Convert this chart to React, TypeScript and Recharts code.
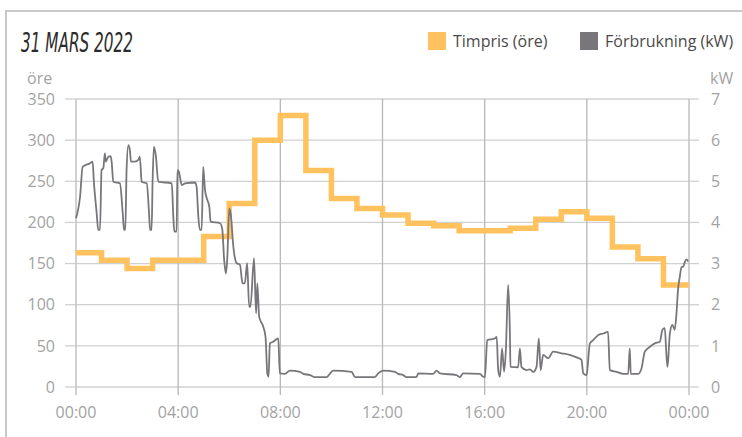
import React from 'react';
import { LineChart, Line, XAxis, YAxis, CartesianGrid } from 'recharts';

const title = '31 MARS 2022';
const priceLabel = 'Timpris (öre)';
const consumptionLabel = 'Förbrukning (kW)';
const leftUnit = 'öre';
const rightUnit = 'kW';

const priceHours = [0, 1, 2, 3, 4, 5, 6, 7, 8, 9, 10, 11, 12, 13, 14, 15, 16, 17, 18, 19, 20, 21, 22, 23, 24];
const pricesOre = [163, 154, 144, 154, 154, 183, 223, 300, 330, 263, 229, 217, 209, 199, 196, 190, 190, 193, 204, 213, 205, 170, 156, 124, 124];

const consumptionHours = [
  0.0, 0.16, 0.26, 0.55, 0.65, 0.7, 0.81, 0.87, 0.94, 1.0, 1.07, 1.13, 1.17, 1.27, 1.36, 1.4, 1.46, 1.72, 1.83, 1.88,
  1.93, 1.98, 2.05, 2.11, 2.15, 2.31, 2.44, 2.5, 2.57, 2.77, 2.86, 2.9, 2.96, 3.0, 3.05, 3.13, 3.22, 3.75, 3.81, 3.85,
  3.94, 3.97, 4.03, 4.14, 4.27, 4.66, 4.72, 4.79, 4.85, 4.92, 4.98, 5.05, 5.14, 5.22, 5.27, 5.64, 5.73, 5.8, 5.87, 5.92,
  6.0, 6.07, 6.16, 6.29, 6.42, 6.52, 6.61, 6.7, 6.78, 6.83, 6.97, 7.05, 7.1, 7.17, 7.33, 7.42, 7.49, 7.54, 7.59, 7.72,
  7.92, 7.98, 8.18, 8.38, 8.77, 8.9, 9.16, 9.35, 9.81, 10.07, 10.79, 10.92, 11.7, 11.83, 12.03, 12.49, 12.61, 12.81, 12.94, 13.33,
  13.4, 13.98, 14.12, 14.25, 14.9, 15.03, 15.16, 15.81, 15.94, 16.01, 16.1, 16.4, 16.47, 16.53, 16.6, 16.68, 16.76, 16.83, 16.92, 16.99,
  17.01, 17.31, 17.38, 17.44, 17.64, 17.77, 17.9, 18.03, 18.12, 18.19, 18.29, 18.49, 18.68, 19.01, 19.33, 19.6, 19.79, 19.86, 19.99, 20.12,
  20.25, 20.44, 20.64, 20.83, 20.9, 21.16, 21.42, 21.62, 21.68, 21.72, 22.01, 22.14, 22.27, 22.47, 22.66, 22.86, 22.96, 23.05, 23.12, 23.16,
  23.25, 23.35, 23.44, 23.51, 23.57, 23.64, 23.71, 23.77, 23.84, 23.9, 23.97,
];
const consumptionKw = [
  4.1, 4.63, 5.35, 5.44, 5.48, 4.99, 4.22, 3.82, 3.82, 5.27, 5.32, 5.68, 5.48, 5.6, 5.61, 5.44, 4.99, 4.95, 4.22, 3.82,
  3.82, 5.27, 5.88, 5.76, 5.48, 5.48, 5.52, 5.6, 4.99, 4.95, 4.22, 3.82, 3.82, 5.03, 5.84, 5.6, 4.99, 4.95, 4.14, 3.78,
  3.78, 5.27, 5.23, 4.91, 4.95, 4.97, 4.87, 4.14, 3.82, 3.82, 5.35, 4.79, 4.55, 4.38, 4.02, 3.98, 3.82, 3.09, 2.76, 3.09,
  4.34, 4.14, 3.41, 3.01, 2.97, 2.52, 2.52, 3.01, 1.95, 1.95, 3.13, 1.79, 2.52, 1.71, 1.47, 1.22, 0.33, 0.25, 1.06, 1.1,
  1.18, 0.33, 0.32, 0.4, 0.37, 0.32, 0.29, 0.24, 0.24, 0.4, 0.37, 0.24, 0.24, 0.33, 0.4, 0.37, 0.32, 0.29, 0.24, 0.24,
  0.33, 0.32, 0.4, 0.33, 0.29, 0.24, 0.33, 0.32, 0.25, 0.24, 1.14, 1.18, 1.22, 0.41, 0.25, 0.94, 0.37, 0.9, 2.48, 1.22,
  0.49, 0.48, 0.94, 0.49, 0.41, 0.43, 0.37, 0.49, 1.18, 0.41, 0.78, 0.7, 0.86, 0.82, 0.78, 0.72, 0.66, 0.33, 0.29, 1.06,
  1.14, 1.26, 1.3, 1.34, 0.41, 0.37, 0.32, 0.32, 0.94, 0.32, 0.32, 0.45, 0.86, 0.98, 1.06, 1.1, 1.39, 1.43, 0.74, 0.49,
  1.3, 1.51, 1.39, 1.79, 2.36, 2.68, 2.92, 2.92, 3.05, 3.1, 3.05,
];

const xTicks = [0, 4, 8, 12, 16, 20, 24];
const leftTicks = [0, 50, 100, 150, 200, 250, 300, 350];
const rightTicks = [0, 1, 2, 3, 4, 5, 6, 7];

const priceData = priceHours.map((t, i) => ({ t, price: pricesOre[i] }));
const consumptionData = consumptionHours.map((t, i) => ({ t, kw: consumptionKw[i] }));

const ORANGE = '#FFC25F';
const GREY = '#79767B';
const TICK_FONT = { fontFamily: 'Open Sans, sans-serif', fontSize: 16, fill: '#a3a3a3' };

const fmtHour = (h: number) => `${String(h % 24).padStart(2, '0')}:00`;

export default function App() {
  return (
    <div style={{ position: 'absolute', left: 0, top: 0, width: 742, height: 437, background: '#fff', overflow: 'hidden' }}>
      <div style={{ position: 'absolute', left: 5, top: 10, width: 800, height: 500, border: '2px solid #c9c9c9', boxSizing: 'border-box' }} />
      <svg style={{ position: 'absolute', left: 0, top: 0 }} width={742} height={100}>
        <text
          x={21}
          y={52}
          textLength={112}
          lengthAdjust="spacingAndGlyphs"
          style={{ fontFamily: '"Liberation Sans Narrow", "DejaVu Sans Condensed", sans-serif', fontStyle: 'italic', fontSize: 27, fill: '#2b2b2b' }}
        >
          {title}
        </text>
        <rect x={428} y={32} width={18} height={18} fill={ORANGE} />
        <text x={453} y={47} style={{ fontFamily: 'Open Sans, sans-serif', fontSize: 16, fill: '#4a4a4a' }}>{priceLabel}</text>
        <rect x={580} y={32} width={18} height={18} fill={GREY} />
        <text x={605} y={47} style={{ fontFamily: 'Open Sans, sans-serif', fontSize: 16, fill: '#4a4a4a' }}>{consumptionLabel}</text>
        <text x={27} y={84} style={TICK_FONT as any}>{leftUnit}</text>
        <text x={710} y={84} style={TICK_FONT as any}>{rightUnit}</text>
      </svg>
      <div style={{ position: 'absolute', left: 0, top: 0 }}>
        <LineChart width={742} height={437} margin={{ top: 99, right: 13, bottom: 20, left: 16 }}>
          <CartesianGrid yAxisId="left" vertical={false} stroke="#d0d0d0" strokeWidth={1.3} />
          <CartesianGrid yAxisId="left" horizontal={false} stroke="#b8b8b8" strokeWidth={1.3} />
          <XAxis
            type="number"
            dataKey="t"
            domain={[0, 24]}
            ticks={xTicks}
            tickFormatter={fmtHour}
            axisLine={false}
            tickLine={{ stroke: '#b8b8b8', strokeWidth: 1.3 }}
            tickSize={8}
            tickMargin={12}
            height={30}
            tick={TICK_FONT}
            interval={0}
          />
          <YAxis
            yAxisId="left"
            orientation="left"
            domain={[0, 350]}
            ticks={leftTicks}
            axisLine={false}
            tickLine={{ stroke: '#d0d0d0', strokeWidth: 1.3 }}
            tickSize={11}
            tickMargin={10}
            width={60}
            tick={TICK_FONT}
            interval={0}
          />
          <YAxis
            yAxisId="right"
            orientation="right"
            domain={[0, 7]}
            ticks={rightTicks}
            axisLine={false}
            tickLine={{ stroke: '#d0d0d0', strokeWidth: 1.3 }}
            tickSize={10}
            tickMargin={12}
            width={40}
            tick={TICK_FONT}
            interval={0}
          />
          <Line
            yAxisId="left"
            data={priceData}
            dataKey="price"
            type="stepAfter"
            stroke={ORANGE}
            strokeWidth={5.5}
            dot={false}
            isAnimationActive={false}
          />
          <Line
            yAxisId="right"
            data={consumptionData}
            dataKey="kw"
            type="monotone"
            stroke={GREY}
            strokeWidth={1.8}
            dot={false}
            isAnimationActive={false}
          />
        </LineChart>
      </div>
    </div>
  );
}
